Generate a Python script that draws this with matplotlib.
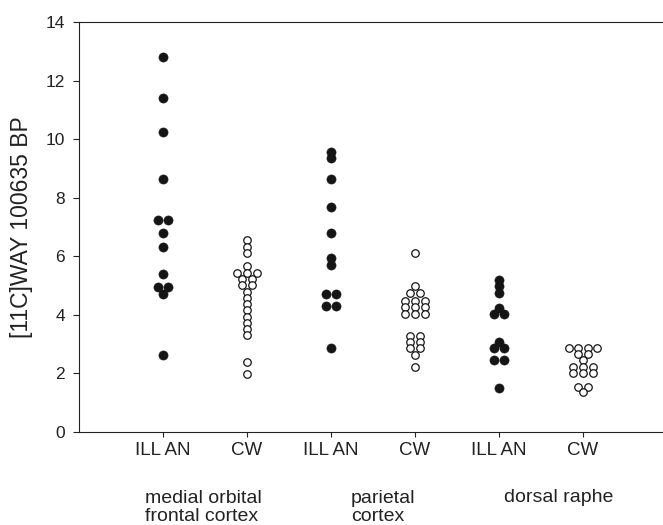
import matplotlib
matplotlib.use("Agg")
import matplotlib.pyplot as plt
import matplotlib.transforms as mtransforms
import numpy as np

plt.rcParams['font.family'] = ['Liberation Sans', 'DejaVu Sans']

# ---- data ----
tick_labels = ["ILL AN", "CW", "ILL AN", "CW", "ILL AN", "CW"]
regions = ["medial orbital\nfrontal cortex", "parietal\ncortex", "dorsal raphe"]
ylabel = "[11C]WAY 100635 BP"

mofc_ill = [12.81, 11.39, 10.25, 8.63, 7.24, 7.24, 6.78, 6.31, 5.39, 4.94, 4.94, 4.71, 2.63]
mofc_cw = [6.55, 6.33, 6.10, 5.67, 5.44, 5.44, 5.44, 5.23, 5.23, 5.02, 5.02,
           4.79, 4.58, 4.37, 4.15, 3.94, 3.73, 3.52, 3.31, 2.40, 1.97]
par_ill = [9.57, 9.34, 8.63, 7.69, 6.78, 5.93, 5.70, 4.71, 4.71, 4.30, 4.30, 2.86]
par_cw = [6.10, 4.98, 4.73, 4.73, 4.48, 4.48, 4.48, 4.26, 4.26, 4.26, 4.03, 4.03, 4.03,
          3.28, 3.28, 3.07, 3.07, 2.87, 2.87, 2.63, 2.21]
dr_ill = [5.20, 4.98, 4.75, 4.22, 4.02, 4.02, 3.08, 2.86, 2.86, 2.46, 2.46, 1.50]
dr_cw = [2.88, 2.88, 2.88, 2.88, 2.66, 2.66, 2.46, 2.23, 2.23, 2.23, 2.00, 2.00, 2.00,
         1.52, 1.52, 1.38]

series = [mofc_ill, mofc_cw, par_ill, par_cw, dr_ill, dr_cw]


def row_offsets(vals, dx):
    vals = np.asarray(vals)
    offs = np.zeros(len(vals))
    for v in np.unique(vals):
        idx = np.where(vals == v)[0]
        n = len(idx)
        offs[idx] = (np.arange(n) - (n - 1) / 2.0) * dx
    return offs


fig = plt.figure(figsize=(6.63, 5.25), dpi=100)
ax = fig.add_axes([79 / 663, 93 / 525, 584 / 663, 410 / 525])

positions = np.arange(1, len(series) + 1)
dx = 0.115
for i, (pos, vals) in enumerate(zip(positions, series)):
    offs = row_offsets(vals, dx)
    if i % 2 == 0:
        ax.plot(pos + offs, vals, linestyle='none', marker='o', ms=6.6,
                mfc='#151515', mec='#151515', mew=0.4, clip_on=False, zorder=3)
    else:
        ax.plot(pos + offs, vals, linestyle='none', marker='o', ms=5.4,
                mfc='white', mec='#151515', mew=0.9, clip_on=False, zorder=3)

ax.set_xlim(0, 584 / 84)
ax.set_ylim(0, 14)
ax.set_xticks(positions)
ax.set_xticklabels(tick_labels)
ax.set_yticks(np.arange(0, 15, 2))

ax.spines['right'].set_visible(False)
for s in ['left', 'bottom', 'top']:
    ax.spines[s].set_linewidth(0.8)
    ax.spines[s].set_color('#222222')

ax.tick_params(axis='y', direction='out', length=4.5, width=0.8, labelsize=12.5,
               pad=5.5, colors='#222222')
ax.tick_params(axis='x', direction='out', length=3.5, width=0.8, labelsize=13.5,
               pad=4, colors='#222222')

ax.set_ylabel(ylabel, fontsize=16.5, color='#222222')
ax.yaxis.set_label_coords(-0.079, 0.5)

trans = mtransforms.blended_transform_factory(ax.transData, ax.transAxes)
region_x = [0.79, 3.24, 5.06]
for rx, label in zip(region_x, regions):
    nlines = label.count("\n") + 1
    yc = -(507.5 - 432) / 410 if nlines == 2 else -(497 - 432) / 410
    ax.text(rx, yc, label, transform=trans, ha='left', va='center',
            fontsize=14, linespacing=1.1, color='#222222')

fig.savefig('out.png', dpi=100)
